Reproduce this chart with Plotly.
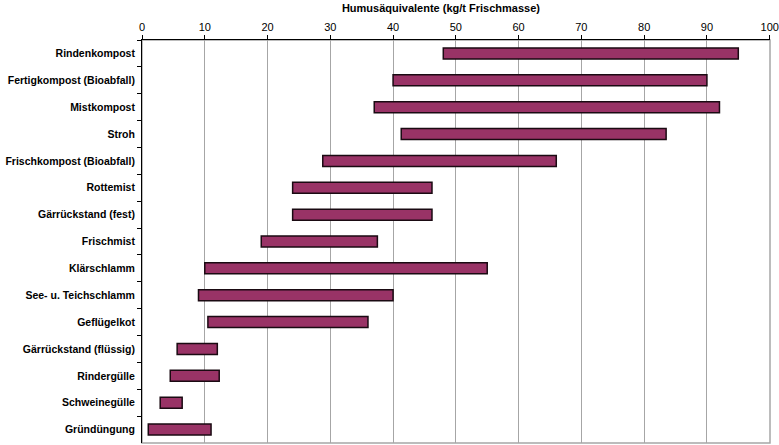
import plotly.graph_objects as go

kategorien = [
    "Rindenkompost", "Fertigkompost (Bioabfall)", "Mistkompost", "Stroh",
    "Frischkompost (Bioabfall)", "Rottemist", "Gärrückstand (fest)", "Frischmist",
    "Klärschlamm", "See- u. Teichschlamm", "Geflügelkot", "Gärrückstand (flüssig)",
    "Rindergülle", "Schweinegülle", "Gründüngung",
]
von = [48, 40, 37, 41.3, 28.8, 24, 24, 19, 10, 9, 10.5, 5.6, 4.5, 2.9, 1]
bis = [95, 90, 92, 83.5, 66, 46.2, 46.2, 37.5, 55, 40, 36, 12, 12.3, 6.4, 11]
x_ticks = [0, 10, 20, 30, 40, 50, 60, 70, 80, 90, 100]

spanne = [b - a for a, b in zip(von, bis)]

fig = go.Figure()
fig.add_trace(go.Bar(
    y=kategorien, x=spanne, base=von, orientation="h",
    width=0.41,
    marker=dict(color="#993366", line=dict(color="#1a0a12", width=1.5)),
    hoverinfo="skip",
))

fig.update_layout(
    width=779, height=445,
    margin=dict(l=142, r=9, t=40, b=2),
    paper_bgcolor="white", plot_bgcolor="white",
    showlegend=False,
    font=dict(family="Liberation Sans, Arial", size=11, color="black"),
    title=dict(
        text="<b>Humusäquivalente (kg/t Frischmasse)</b>",
        x=0.566, xanchor="center", y=0.982, yanchor="middle",
        font=dict(size=11),
    ),
    shapes=[dict(
        type="rect", xref="paper", yref="paper", x0=0, x1=1, y0=0, y1=1,
        line=dict(color="#a6a6a6", width=1.5), layer="below",
    )],
)

fig.update_xaxes(
    side="top", range=[0, 100.05],
    tickmode="array", tickvals=x_ticks, ticktext=[str(t) for t in x_ticks],
    showgrid=True, gridcolor="#a6a6a6", gridwidth=1.2,
    showline=True, linecolor="black", linewidth=1,
    ticks="outside", ticklen=4, tickcolor="black",
    zeroline=False, fixedrange=True, automargin=False,
)
fig.update_yaxes(
    autorange="reversed",
    showline=True, linecolor="black", linewidth=1,
    ticks="outside", ticklen=4, tickcolor="black", tickson="boundaries",
    ticklabelstandoff=4,
    tickfont=dict(size=10.5, family="Liberation Sans, Arial", weight="bold"),
    showgrid=False, fixedrange=True, automargin=False,
)

fig.write_html(
    "out.html",
    config={"displayModeBar": False},
    post_script="document.body.style.margin='0';document.body.style.overflow='hidden';",
)
